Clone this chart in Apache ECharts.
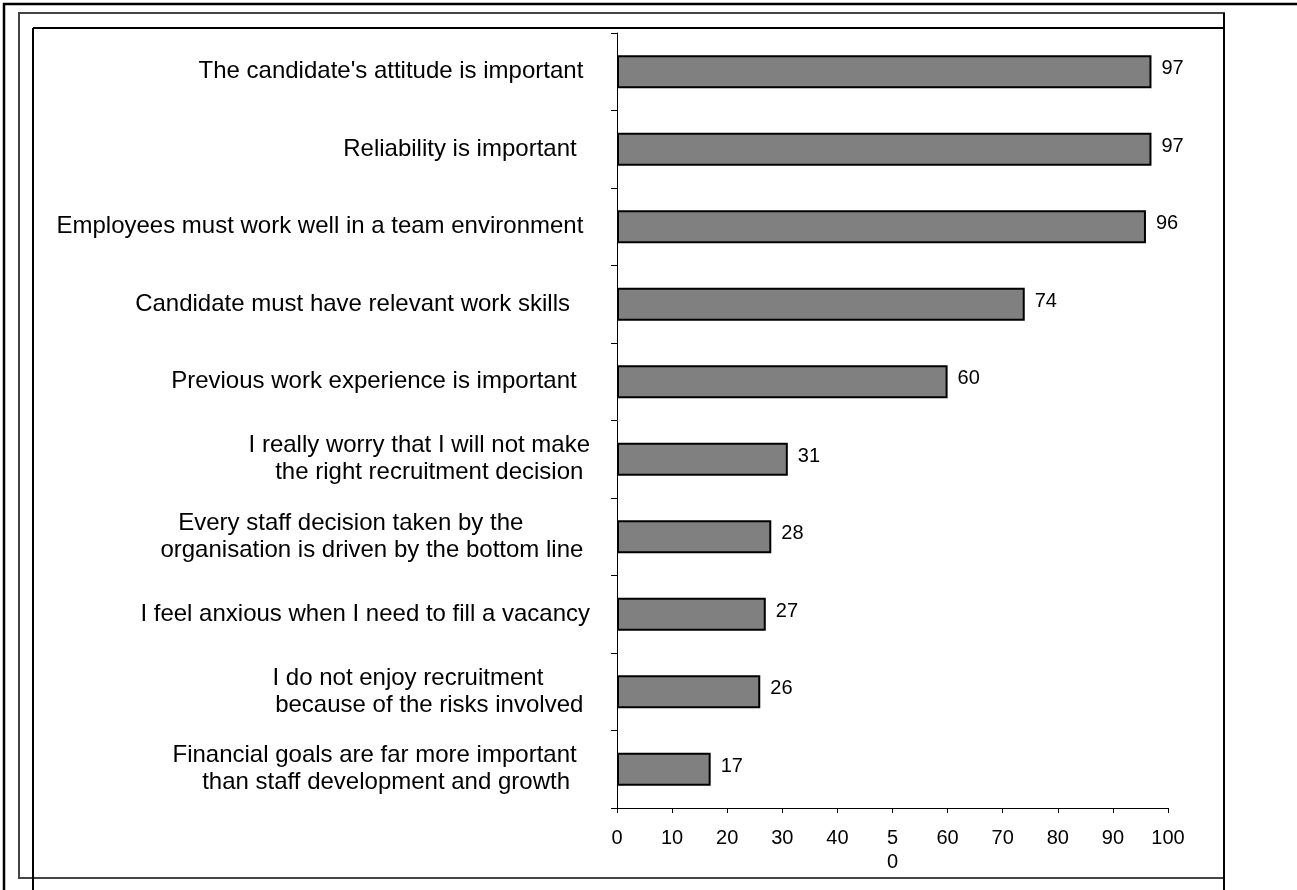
<!DOCTYPE html>
<html>
<head>
    <meta charset="UTF-8">
    <title>Employer agreement</title>
    <script type="text/javascript" src="https://cdn.jsdelivr.net/npm/echarts@6.0.0/dist/echarts.min.js"></script>
    <style type="text/css">
        html, body { margin: 0; padding: 0; background: #fff; }
        #chart { width: 1297px; height: 890px; }
    </style>
</head>
<body>
    <div id="chart"></div>

    <script>
    // statements, top to bottom
    var categories = [
        "The candidate's attitude is important",
        "Reliability is important",
        "Employees must work well in a team environment",
        "Candidate must have relevant work skills",
        "Previous work experience is important",
        "I really worry that I will not make\nthe right recruitment decision",
        "Every staff decision taken by the\norganisation is driven by the bottom line",
        "I feel anxious when I need to fill a vacancy",
        "I do not enjoy recruitment\nbecause of the risks involved",
        "Financial goals are far more important\nthan staff development and growth"
    ];
    // percent agreeing
    var values = [97, 97, 96, 74, 60, 31, 28, 27, 26, 17];
    // x axis tick labels as printed (the 50 wraps in the original)
    var xTickLabels = ['0', '10', '20', '30', '40', '5\n0', '60', '70', '80', '90', '100'];

    // trailing spaces per label line, mimics the uneven alignment of the original
    var labelPad = [[1], [2], [1], [3], [2], [0, 1], [10, 1], [0], [7, 1], [2, 3]];

    function padLabel(text, idx) {
        var lines = text.split('\n');
        var pads = labelPad[idx] || [];
        for (var i = 0; i < lines.length; i++) {
            lines[i] = lines[i] + new Array((pads[i] || 0) + 1).join(' ');
        }
        return lines.join('\n');
    }

    var myChart = echarts.init(document.getElementById('chart'), null, { renderer: 'canvas' });

    var option = {
        backgroundColor: '#fff',
        animation: false,
        textStyle: { fontFamily: 'Liberation Sans, Arial, sans-serif', color: '#000' },
        grid: {
            left: 617,
            right: 129,
            top: 33,
            bottom: 82,
            outerBoundsMode: 'none'
        },
        xAxis: {
            type: 'value',
            min: 0,
            max: 100,
            interval: 10,
            axisLine: { show: true, lineStyle: { color: '#000', width: 1 } },
            axisTick: { show: true, length: 5, lineStyle: { color: '#000' } },
            splitLine: { show: false },
            axisLabel: {
                margin: 18,
                fontSize: 20,
                lineHeight: 24,
                color: '#000',
                formatter: function (v) {
                    return xTickLabels[Math.round(v / 10)];
                }
            }
        },
        yAxis: {
            type: 'category',
            inverse: true,
            data: categories,
            axisLine: { show: true, lineStyle: { color: '#000', width: 1 } },
            axisTick: { show: true, length: 6, lineStyle: { color: '#000' } },
            axisLabel: {
                margin: 27,
                fontSize: 24,
                lineHeight: 27,
                color: '#000',
                interval: 0,
                formatter: function (v, idx) {
                    return padLabel(v, idx);
                }
            }
        },
        series: [{
            type: 'bar',
            data: values,
            barWidth: 33,
            itemStyle: { color: '#808080', borderColor: '#000', borderWidth: 2 },
            label: {
                show: true,
                position: 'right',
                distance: 10,
                offset: [0, -3],
                fontSize: 20,
                color: '#000'
            }
        }],
        graphic: [
            // outer page frame
            { type: 'line', shape: { x1: 3, y1: 4, x2: 1297, y2: 4 }, style: { stroke: '#000', lineWidth: 2.5 } },
            { type: 'line', shape: { x1: 4, y1: 3, x2: 4, y2: 890 }, style: { stroke: '#000', lineWidth: 2.5 } },
            // figure box
            { type: 'rect', shape: { x: 19, y: 13, width: 1205, height: 865 }, style: { fill: null, stroke: '#444', lineWidth: 2 } },
            // chart area box
            { type: 'line', shape: { x1: 33, y1: 28, x2: 1224, y2: 28 }, style: { stroke: '#000', lineWidth: 2 } },
            { type: 'line', shape: { x1: 33, y1: 28, x2: 33, y2: 890 }, style: { stroke: '#000', lineWidth: 2 } },
            { type: 'line', shape: { x1: 1224, y1: 13, x2: 1224, y2: 890 }, style: { stroke: '#000', lineWidth: 2 } }
        ]
    };

    myChart.setOption(option);
    </script>
</body>
</html>
